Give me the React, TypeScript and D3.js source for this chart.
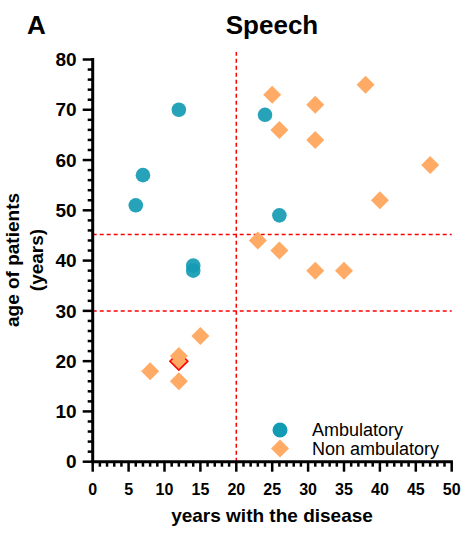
import React from "react";
import * as d3 from "d3";

// values
const ambYears = [6, 7, 12, 14, 14, 24, 26];
const ambAge = [51, 57, 70, 39, 38, 69, 49];

const nonYears = [25, 26, 31, 31, 38, 47, 40, 23, 26, 31, 35, 15, 12, 12, 8];
const nonAge = [73, 66, 71, 64, 75, 59, 52, 44, 42, 38, 38, 25, 21, 16, 18];

// highlighted patient (red outline)
const flagYears = [12];
const flagAge = [20];

const xTicks = [0, 5, 10, 15, 20, 25, 30, 35, 40, 45, 50];
const yTicks = [0, 10, 20, 30, 40, 50, 60, 70, 80];
const cutYears = [20];
const cutAge = [30, 45.2];

const seriesNames = ["Ambulatory", "Non ambulatory"];

const W = 472;
const H = 534;
const TEAL = "#139bb3";
const ORANGE = "#ffab66";
const FONT = "'Liberation Sans', Arial, sans-serif";

const x = d3.scaleLinear().domain([0, 50]).range([92.7, 451.7]);
const y = d3.scaleLinear().domain([0, 80]).range([461.7, 59.5]);

const diamondPath = (r: number) => `M0,${-r}L${r},0L0,${r}L${-r},0Z`;

export default function App() {
  const x0 = x(0);
  const y0 = y(0);
  const xMinor = d3.range(0, 51, 1).filter((v) => v % 5 !== 0);
  const yMinor = d3.range(0, 81, 2).filter((v) => v % 10 !== 0);

  return (
    <svg
      width={W}
      height={H}
      style={{ position: "absolute", left: 0, top: 0, background: "#fff" }}
      fontFamily={FONT}
    >
      {/* panel letter and title */}
      <text x={27} y={34} fontSize={26} fontWeight="bold">A</text>
      <text x={272} y={34} fontSize={26} fontWeight="bold" textAnchor="middle">Speech</text>

      {/* cut-off lines */}
      {cutYears.map((v) => (
        <line key={"cx" + v} x1={x(v)} x2={x(v)} y1={y(0)} y2={y(81.5)}
          stroke="#ff0000" strokeWidth={1.5} strokeDasharray="4,3" />
      ))}
      {cutAge.map((v) => (
        <line key={"cy" + v} x1={x(0)} x2={x(50)} y1={y(v)} y2={y(v)}
          stroke="#ff0000" strokeWidth={1.5} strokeDasharray="4,3" />
      ))}

      {/* y axis */}
      <g stroke="#000">
        <line x1={x0} x2={x0} y1={y(80) - 1.5} y2={y0} strokeWidth={3} />
        {yTicks.map((t) => (
          <line key={"yt" + t} x1={x0 - 10} x2={x0} y1={y(t)} y2={y(t)} strokeWidth={2.5} />
        ))}
        {yMinor.map((t) => (
          <line key={"ym" + t} x1={x0 - 5} x2={x0} y1={y(t)} y2={y(t)} strokeWidth={2.5} />
        ))}
      </g>
      {yTicks.map((t) => (
        <text key={"yl" + t} x={x0 - 16} y={y(t)} dy="0.35em" textAnchor="end"
          fontSize={19} fontWeight="bold">{t}</text>
      ))}

      {/* x axis */}
      <g stroke="#000">
        <line x1={x0 - 1.5} x2={x(50) + 1.2} y1={y0} y2={y0} strokeWidth={3} />
        {xTicks.map((t) => (
          <line key={"xt" + t} x1={x(t)} x2={x(t)} y1={y0} y2={y0 + 10} strokeWidth={2.5} />
        ))}
        {xMinor.map((t) => (
          <line key={"xm" + t} x1={x(t)} x2={x(t)} y1={y0} y2={y0 + 5} strokeWidth={2.5} />
        ))}
      </g>
      {xTicks.map((t) => (
        <text key={"xl" + t} x={x(t)} y={494.5} textAnchor="middle"
          fontSize={16} fontWeight="bold">{t}</text>
      ))}

      {/* axis titles */}
      <text x={272} y={522} textAnchor="middle" fontSize={19} fontWeight="bold">
        years with the disease
      </text>
      <g transform="translate(0,260) rotate(-90)" fontSize={19} fontWeight="bold" textAnchor="middle">
        <text x={0} y={19}>age of patients</text>
        <text x={0} y={43}>(years)</text>
      </g>

      {/* points */}
      {ambYears.map((v, i) => (
        <circle key={"a" + i} cx={x(v)} cy={y(ambAge[i])} r={7.3} fill={TEAL} fillOpacity={0.92} />
      ))}
      {flagYears.map((v, i) => (
        <path key={"f" + i} d={diamondPath(9)} transform={`translate(${x(v)},${y(flagAge[i])})`}
          fill={ORANGE} stroke="#ff0000" strokeWidth={1.5} />
      ))}
      {nonYears.map((v, i) => (
        <path key={"n" + i} d={diamondPath(9)} transform={`translate(${x(v)},${y(nonAge[i])})`}
          fill={ORANGE} />
      ))}

      {/* legend */}
      <circle cx={280} cy={430} r={7.5} fill={TEAL} />
      <path d={diamondPath(9)} transform="translate(280,448.5)" fill={ORANGE} />
      <text x={312} y={435.5} fontSize={18}>{seriesNames[0]}</text>
      <text x={312} y={454.5} fontSize={18}>{seriesNames[1]}</text>
    </svg>
  );
}
